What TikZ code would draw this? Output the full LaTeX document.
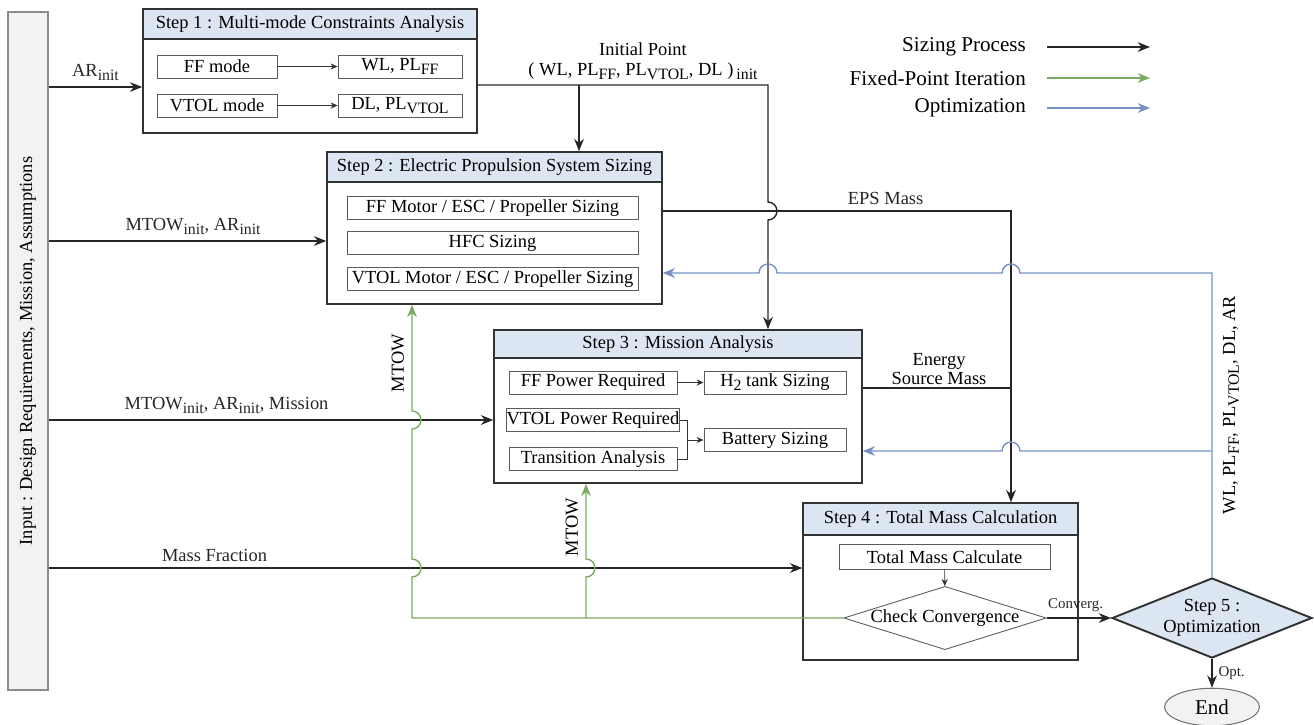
\documentclass[tikz,border=0pt]{standalone}
\usepackage{amsmath}
\usepackage{fontspec}
\setmainfont{Liberation Serif}
\usepackage{tikz}
\usetikzlibrary{shapes.geometric,arrows.meta}

\definecolor{hdrblue}{RGB}{220,230,242}
\definecolor{inpgray}{RGB}{242,242,242}
\definecolor{fpgreen}{RGB}{122,170,98}
\definecolor{optblue}{RGB}{118,146,196}
\definecolor{boxline}{RGB}{50,50,50}

% subscripts as printed in the figure
\newcommand{\lowsub}[1]{\raisebox{-0.45ex}{\fontsize{9}{9}\selectfont #1}}

\begin{document}
\begin{tikzpicture}[-,>={Stealth[length=7pt,width=5.5pt]},x=0.02cm,y=-0.02cm,
	step box/.style={draw=boxline,line width=0.9pt,fill=white,inner sep=0},
	head box/.style={draw=boxline,line width=0.9pt,fill=hdrblue,inner sep=0},
	sub box/.style={draw=boxline!80,line width=0.5pt,fill=white,minimum height=0.46cm,inner sep=0},
	flow/.style={->,line width=0.8pt,black!85},
	fixed/.style={->,line width=0.8pt,fpgreen},
	optim/.style={->,line width=0.8pt,optblue},
	inner/.style={-{Stealth[length=4pt,width=3.5pt]},line width=0.4pt,black!80}]
	\tikzstyle{every node}=[font=\fontsize{10.5}{12}\selectfont]
	\useasboundingbox (0,0) rectangle (1314,724);

	% input column
	\draw (28,351) node(inp) [draw=black!45,line width=0.9pt,fill=inpgray,rotate=90,minimum width=13.56cm,minimum height=0.8cm,inner sep=0] {Input : Design Requirements, Mission, Assumptions};

	% step 1
	\draw
		(310,71)    node(s1)   [step box,minimum width=6.68cm,minimum height=2.48cm] {}
		(310,24)    node(s1h)  [head box,minimum width=6.68cm,minimum height=0.6cm] {Step 1 : Multi-mode Constraints Analysis}
		(217,66.5)  node(ffm)  [sub box,minimum width=2.4cm] {FF mode}
		(400,66.5)  node(wlff) [sub box,minimum width=2.48cm] {WL, PL\lowsub{FF}}
		(217,105.5) node(vtm)  [sub box,minimum width=2.4cm] {VTOL mode}
		(400,105.5) node(dlvt) [sub box,minimum width=2.48cm] {DL, PL\lowsub{VTOL}};
	\draw[inner] (ffm) to (wlff);
	\draw[inner] (vtm) to (dlvt);

	% step 2
	\draw
		(494.5,228) node(s2)    [step box,minimum width=6.7cm,minimum height=3.04cm] {}
		(494.5,167) node(s2h)   [head box,minimum width=6.7cm,minimum height=0.6cm] {Step 2 : Electric Propulsion System Sizing}
		(492.5,208) node(ffmot) [sub box,minimum width=5.82cm] {FF Motor / ESC / Propeller Sizing}
		(492.5,243) node(hfc)   [sub box,minimum width=5.82cm] {HFC Sizing}
		(492.5,279) node(vtmot) [sub box,minimum width=5.82cm] {VTOL Motor / ESC / Propeller Sizing};

	% step 3
	\draw
		(678,406.5) node(s3)    [step box,minimum width=7.36cm,minimum height=3.06cm] {}
		(678,344)   node(s3h)   [head box,minimum width=7.36cm,minimum height=0.56cm] {Step 3 : Mission Analysis}
		(593,382.5) node(ffpow) [sub box,minimum width=3.36cm] {FF Power Required}
		(775,382.5) node(htank) [sub box,minimum width=2.84cm] {H\lowsub{2} tank Sizing}
		(593,420)   node(vtpow) [sub box,minimum width=3.36cm] {VTOL Power Required}
		(593,459)   node(trans) [sub box,minimum width=3.36cm] {Transition Analysis}
		(775,440)   node(batt)  [sub box,minimum width=2.84cm] {Battery Sizing};
	\coordinate (br) at (687,440);
	\draw[inner] (ffpow) to (htank);
	\draw[line width=0.4pt,black!80] (vtpow.east) -| (br);
	\draw[line width=0.4pt,black!80] (trans.east) -| (br);
	\draw[inner] (br) to (batt.west);

	% step 4
	\draw
		(940.5,581.5) node(s4)   [step box,minimum width=5.5cm,minimum height=3.14cm] {}
		(940.5,519)   node(s4h)  [head box,minimum width=5.5cm,minimum height=0.64cm] {Step 4 : Total Mass Calculation}
		(944.5,557)   node(tmc)  [sub box,minimum width=4.22cm,minimum height=0.5cm] {Total Mass Calculate}
		(945,618)     node(conv) [diamond,draw=boxline!80,line width=0.5pt,fill=white,aspect=3.2,minimum width=4.04cm,minimum height=1.26cm,inner sep=0] {Check Convergence};
	\draw[inner] (tmc) to (conv);

	% step 5 and end
	\draw
		(1212,618) node(s5)  [diamond,draw=boxline,line width=1.1pt,fill=hdrblue,aspect=2.5,minimum width=4.0cm,minimum height=1.6cm,inner sep=0,align=center] {Step 5 :\\Optimization}
		(1212,707) node(fin) [ellipse,draw=black!55,line width=0.6pt,fill=inpgray,minimum width=1.9cm,minimum height=0.72cm,font=\fontsize{12}{14}\selectfont] {End};

	% sizing process
	\draw[flow] (inp.south |- 0,87) -- (s1.west |- 0,87) node[midway,above] (lbar) {AR\lowsub{init}};
	\draw[flow] (inp.south |- 0,241) -- (s2.west |- 0,241) node[pos=0.52,above] (lbmt) {MTOW\lowsub{init}, AR\lowsub{init}};
	\draw[flow] (inp.south |- 0,420) -- (s3.west |- 0,420) node[pos=0.4,above] (lbmis) {MTOW\lowsub{init}, AR\lowsub{init}, Mission};
	\draw[flow] (inp.south |- 0,568) -- (s4.west |- 0,568) node[pos=0.22,above] (lbmf) {Mass Fraction};

	\coordinate (ip0) at (579,85);
	\coordinate (ip1) at (768,85);
	\draw[flow] (s1.east |- ip1) -- (ip1) -- (768,202) arc[start angle=90,end angle=-90,radius=0.18cm] -- (ip1 |- s3.north);
	\draw[flow] (ip0) -- (ip0 |- s2.north);
	\draw (643,61) node(lbip) [align=center,font=\fontsize{10.5}{11.5}\selectfont] {Initial Point\\( WL, PL\lowsub{FF}, PL\lowsub{VTOL}, DL )\,\lowsub{init}};

	\coordinate (eps) at (1011,211);
	\draw[flow] (s2.east |- eps) -- (eps) node[pos=0.64,above] (lbeps) {EPS Mass} -- (eps |- s4.north);
	\draw[line width=0.8pt,black!85] (s3.east |- 0,388) -- (eps |- 0,388);
	\draw (939,369) node(lbes) [align=center,font=\fontsize{10.5}{11}\selectfont] {Energy\\Source Mass};

	\draw[flow] (conv.east) -- (s5.west) node[pos=0.45,above,font=\fontsize{8.5}{9}\selectfont] (lbcv) {Converg.};
	\draw[flow] (s5.south) -- (fin.north) node[midway,right,font=\fontsize{8.5}{9}\selectfont] (lbopt) {Opt.};

	% fixed-point iteration
	\coordinate (g1) at (412,618);
	\coordinate (g2) at (586,618);
	\draw[fixed] (conv.west) -- (g1) -- (412,577) arc[start angle=-90,end angle=90,radius=0.18cm] -- (412,429) arc[start angle=-90,end angle=90,radius=0.18cm] -- (g1 |- s2.south);
	\draw[fixed] (g2) -- (586,577) arc[start angle=-90,end angle=90,radius=0.18cm] -- (g2 |- s3.south);
	\draw (398,363) node(lbm1) [rotate=90] {MTOW};
	\draw (572,527) node(lbm2) [rotate=90] {MTOW};

	% optimization
	\coordinate (ob) at (1212,273);
	\draw[optim] (s5.north) -- (ob) -- (1020,273) arc[start angle=0,end angle=180,radius=0.18cm] -- (777,273) arc[start angle=0,end angle=180,radius=0.18cm] -- (s2.east |- ob);
	\draw[optim] (s5.north |- 0,451) -- (1020,451) arc[start angle=0,end angle=180,radius=0.18cm] -- (s3.east |- 0,451);
	\draw (1231,405) node(lbdv) [rotate=90] {WL, PL\lowsub{FF}, PL\lowsub{VTOL}, DL, AR};

	% legend
	\draw
		(1032,47)  node(lgs) [anchor=east,font=\fontsize{12}{14}\selectfont] {Sizing Process}
		(1032,78)  node(lgf) [anchor=east,font=\fontsize{12}{14}\selectfont] {Fixed-Point Iteration}
		(1032,108) node(lgo) [anchor=east,font=\fontsize{12}{14}\selectfont] {Optimization};
	\coordinate (lsa) at (1047,47);
	\coordinate (lsb) at (1150,47);
	\coordinate (lfa) at (1047,78);
	\coordinate (lfb) at (1150,78);
	\coordinate (loa) at (1047,108);
	\coordinate (lob) at (1150,108);
	\draw[flow] (lsa) -- (lsb);
	\draw[fixed] (lfa) -- (lfb);
	\draw[optim] (loa) -- (lob);
\end{tikzpicture}
\end{document}
